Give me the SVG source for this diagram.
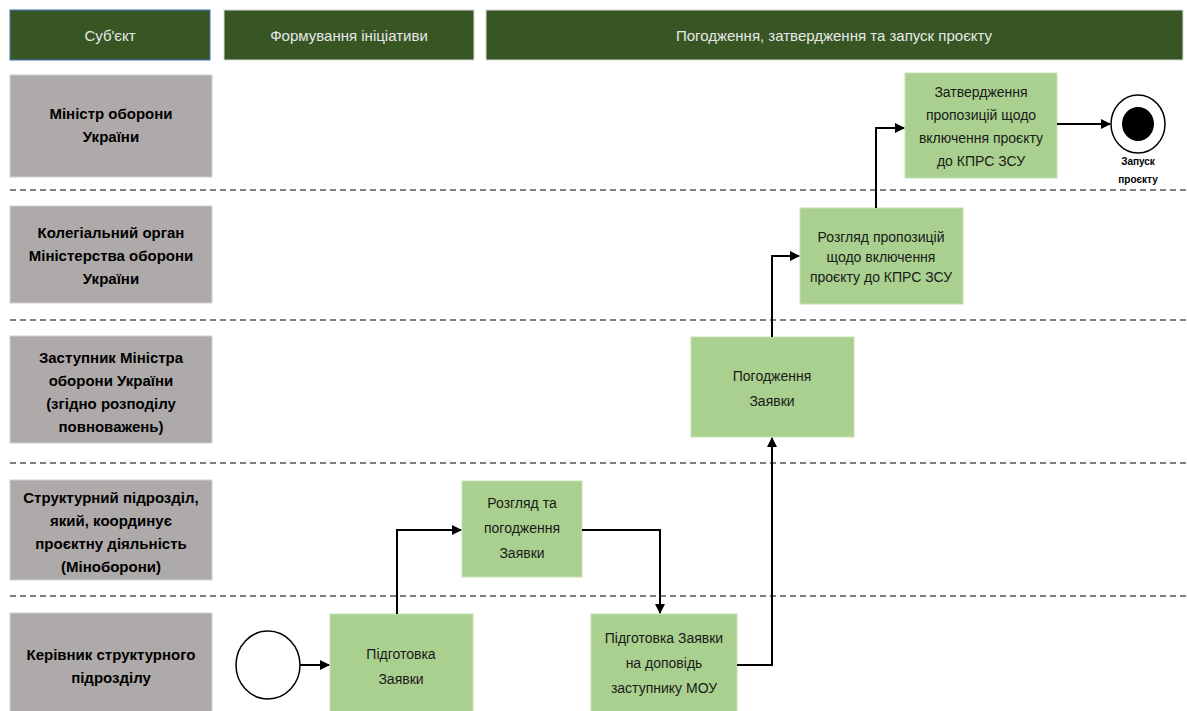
<svg xmlns="http://www.w3.org/2000/svg" width="1187" height="711" viewBox="0 0 1187 711">
<defs>
<style>
.hdr{fill:#375623;stroke:#d9d9d9;stroke-width:1}
.hdrt{fill:#e8e8e8;font-family:"Liberation Sans",Arial,sans-serif;font-size:15px;text-anchor:middle}
.lane{fill:#aeaaaa;stroke:#d0d0d0;stroke-width:1}
.lanet{fill:#000;font-family:"Liberation Sans",Arial,sans-serif;font-size:15px;font-weight:bold;text-anchor:middle}
.task{fill:#a9d08e;stroke:#c6e0b4;stroke-width:1}
.taskt{fill:#1a1a1a;font-family:"Liberation Sans",Arial,sans-serif;font-size:14px;text-anchor:middle}
.sep{stroke:#7f7f7f;stroke-width:2;stroke-dasharray:6,4;fill:none}
.con{stroke:#000;stroke-width:2;fill:none;marker-end:url(#arr)}
.small{fill:#000;font-family:"Liberation Sans",Arial,sans-serif;font-size:10px;font-weight:bold;text-anchor:middle}
</style>
<marker id="arr" viewBox="0 0 10 10" refX="9" refY="5" markerWidth="5" markerHeight="5" orient="auto" markerUnits="strokeWidth">
<path d="M0,0 L10,5 L0,10 z" fill="#000"/>
</marker>
</defs>
<rect width="1187" height="711" fill="#ffffff"/>

<g id="headers">
<rect class="hdr" x="10" y="10" width="200" height="50" style="stroke:#4472c4"/>
<text class="hdrt" x="110" y="41">Суб'єкт</text>
<rect class="hdr" x="224" y="10" width="250" height="50"/>
<text class="hdrt" x="349" y="41">Формування ініціативи</text>
<rect class="hdr" x="486" y="10" width="697" height="50"/>
<text class="hdrt" x="834" y="41">Погодження, затвердження та запуск проєкту</text>
</g>

<g id="separators">
<line class="sep" x1="10" y1="190" x2="1187" y2="190"/>
<line class="sep" x1="10" y1="320" x2="1187" y2="320"/>
<line class="sep" x1="10" y1="463" x2="1187" y2="463"/>
<line class="sep" x1="10" y1="596" x2="1187" y2="596"/>
</g>

<g id="lane1">
<rect class="lane" x="10" y="75" width="202" height="102"/>
<text class="lanet" x="111" y="119">Міністр оборони</text>
<text class="lanet" x="111" y="142">України</text>
</g>
<g id="lane2">
<rect class="lane" x="10" y="206" width="202" height="97"/>
<text class="lanet" x="111" y="238">Колегіальний орган</text>
<text class="lanet" x="111" y="261">Міністерства оборони</text>
<text class="lanet" x="111" y="284">України</text>
</g>
<g id="lane3">
<rect class="lane" x="10" y="336" width="202" height="107"/>
<text class="lanet" x="111" y="363">Заступник Міністра</text>
<text class="lanet" x="111" y="386">оборони України</text>
<text class="lanet" x="111" y="409">(згідно розподілу</text>
<text class="lanet" x="111" y="432">повноважень)</text>
</g>
<g id="lane4">
<rect class="lane" x="10" y="480" width="202" height="100"/>
<text class="lanet" x="111" y="503">Структурний підрозділ,</text>
<text class="lanet" x="111" y="526">який, координує</text>
<text class="lanet" x="111" y="549">проєктну діяльність</text>
<text class="lanet" x="111" y="572">(Міноборони)</text>
</g>
<g id="lane5">
<rect class="lane" x="10" y="613" width="202" height="100"/>
<text class="lanet" x="111" y="660">Керівник структурного</text>
<text class="lanet" x="111" y="683">підрозділу</text>
</g>

<g id="start">
<ellipse cx="268" cy="665" rx="32" ry="34" fill="#fff" stroke="#000" stroke-width="1.5"/>
</g>
<g id="t1">
<rect class="task" x="330" y="614" width="143" height="100"/>
<text class="taskt" x="401" y="659">Підготовка</text>
<text class="taskt" x="401" y="684">Заявки</text>
</g>
<g id="t2">
<rect class="task" x="462" y="481" width="120" height="96"/>
<text class="taskt" x="522" y="508">Розгляд та</text>
<text class="taskt" x="522" y="533">погодження</text>
<text class="taskt" x="522" y="558">Заявки</text>
</g>
<g id="t3">
<rect class="task" x="591" y="614" width="146" height="100"/>
<text class="taskt" x="664" y="643">Підготовка Заявки</text>
<text class="taskt" x="664" y="668">на доповідь</text>
<text class="taskt" x="664" y="693">заступнику МОУ</text>
</g>
<g id="t4">
<rect class="task" x="691" y="337" width="163" height="100"/>
<text class="taskt" x="772" y="381">Погодження</text>
<text class="taskt" x="772" y="406">Заявки</text>
</g>
<g id="t5">
<rect class="task" x="800" y="208" width="163" height="96"/>
<text class="taskt" x="881" y="242">Розгляд пропозицій</text>
<text class="taskt" x="881" y="262">щодо включення</text>
<text class="taskt" x="881" y="282">проєкту до КПРС ЗСУ</text>
</g>
<g id="t6">
<rect class="task" x="905" y="73" width="152" height="105"/>
<text class="taskt" x="981" y="97">Затвердження</text>
<text class="taskt" x="981" y="120">пропозицій щодо</text>
<text class="taskt" x="981" y="143">включення проєкту</text>
<text class="taskt" x="981" y="166">до КПРС ЗСУ</text>
</g>
<g id="end">
<ellipse cx="1138" cy="124" rx="27" ry="29" fill="#fff" stroke="#000" stroke-width="1.5"/>
<ellipse cx="1138" cy="124" rx="16" ry="17" fill="#000"/>
<text class="small" x="1138" y="165">Запуск</text>
<text class="small" x="1138" y="183">проєкту</text>
</g>

<g id="connectors">
<path class="con" d="M300,665 H329"/>
<path class="con" d="M397,614 V530 H461"/>
<path class="con" d="M582,530 H660 V613"/>
<path class="con" d="M737,665 H772 V438"/>
<path class="con" d="M772,337 V256 H799"/>
<path class="con" d="M876,208 V128 H904"/>
<path class="con" d="M1057,124 H1110"/>
</g>
</svg>
